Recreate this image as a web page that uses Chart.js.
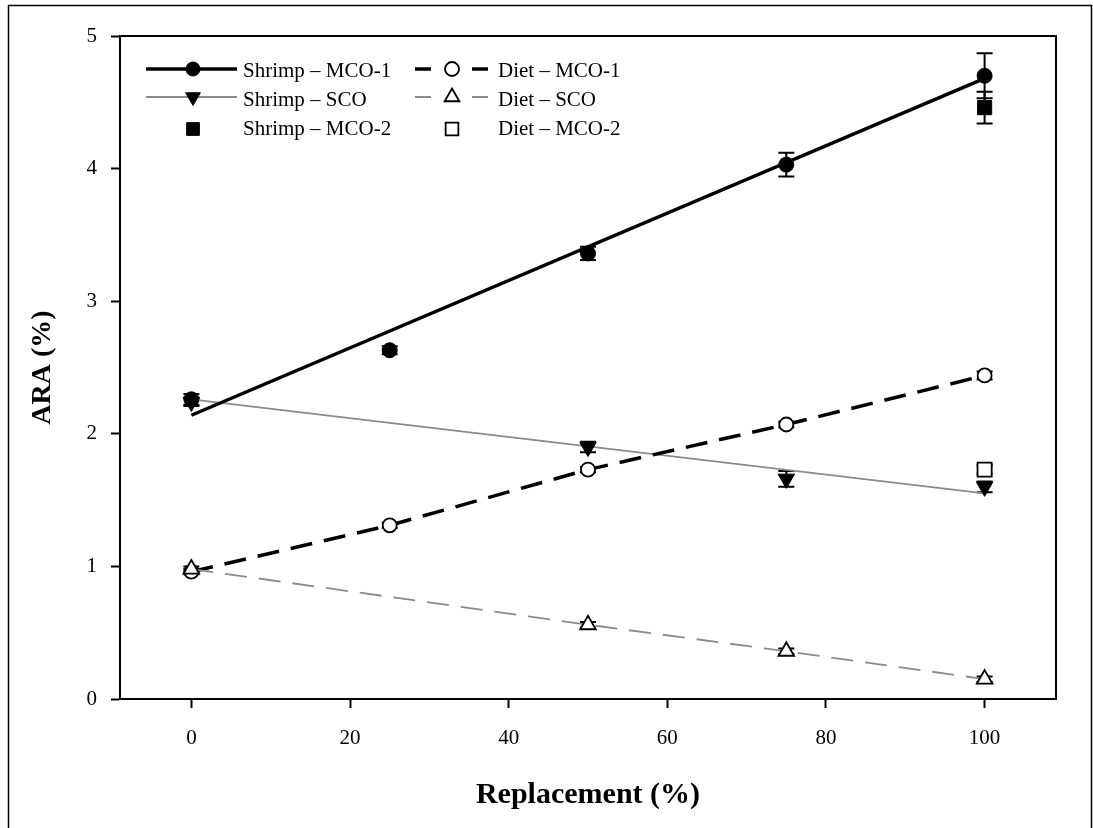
<!DOCTYPE html>
<html><head><meta charset="utf-8">
<script src="https://cdn.jsdelivr.net/npm/chart.js@4"></script>
<style>html,body{margin:0;padding:0;background:#fff}#wrap{width:1093px;height:828px;position:relative}</style>
</head><body><div id="wrap"><canvas id="c" width="1093" height="828"></canvas></div>
<script>
// ---- data ----
const replacement = [0, 25, 50, 75, 100];
const scoReplacement = [0, 50, 75, 100];
const mco2Replacement = [100];
const fitReplacement = [0, 100];

const shrimpMco1 = [2.26, 2.63, 3.36, 4.03, 4.70];
const shrimpMco1Err = [0.04, 0.03, 0.05, 0.09, 0.17];
const shrimpSco = [2.24, 1.90, 1.66, 1.60];
const shrimpScoErr = [0.03, 0.04, 0.06, 0.04];
const shrimpMco2 = [4.46];
const shrimpMco2Err = [0.12];

const dietMco1 = [0.96, 1.31, 1.73, 2.07, 2.44];
const dietMco1Err = [0.02, 0.02, 0.02, 0.02, 0.03];
const dietSco = [0.98, 0.56, 0.36, 0.15];
const dietScoErr = [0.02, 0.02, 0.02, 0.02];
const dietMco2 = [1.73];
const dietMco2Err = [0.03];

const shrimpMco1Fit = [2.14, 4.68];
const shrimpScoFit = [2.26, 1.55];

const xTicks = [0, 20, 40, 60, 80, 100];
const yTicks = [0, 1, 2, 3, 4, 5];
const legendLabels = ['Shrimp – MCO-1', 'Shrimp – SCO', 'Shrimp – MCO-2', 'Diet – MCO-1', 'Diet – SCO', 'Diet – MCO-2'];

const GRAY = '#8a8a8a';
const FONT = "'Liberation Serif', 'Times New Roman', serif";
const pts = (xs, ys) => xs.map((x, i) => ({x, y: ys[i]}));

const datasets = [
  {label: legendLabels[0], data: pts(replacement, shrimpMco1), err: shrimpMco1Err, showLine: false,
   pointStyle: 'circle', pointRadius: 7.5, pointBackgroundColor: '#000', pointBorderColor: '#000', pointBorderWidth: 1},
  {label: 'fit1', data: pts(fitReplacement, shrimpMco1Fit), showLine: true, borderColor: '#000', borderWidth: 3.5, pointRadius: 0},
  {label: legendLabels[1], data: pts(scoReplacement, shrimpSco), err: shrimpScoErr, showLine: false,
   pointStyle: 'triangle', rotation: 180, pointRadius: 9.5, pointBackgroundColor: '#000', pointBorderColor: '#000', pointBorderWidth: 1},
  {label: 'fit2', data: pts(fitReplacement, shrimpScoFit), showLine: true, borderColor: GRAY, borderWidth: 1.8, pointRadius: 0},
  {label: legendLabels[2], data: pts(mco2Replacement, shrimpMco2), err: shrimpMco2Err, showLine: false,
   pointStyle: 'rect', pointRadius: 10, pointBackgroundColor: '#000', pointBorderColor: '#000', pointBorderWidth: 1},
  {label: legendLabels[3], data: pts(replacement, dietMco1), err: dietMco1Err, showLine: true, borderColor: '#000', borderWidth: 3.5, borderDash: [22, 12],
   pointStyle: 'circle', pointRadius: 7, pointBackgroundColor: '#fff', pointBorderColor: '#000', pointBorderWidth: 1.8},
  {label: legendLabels[4], data: pts(scoReplacement, dietSco), err: dietScoErr, showLine: true, borderColor: GRAY, borderWidth: 1.8, borderDash: [22, 12],
   pointStyle: 'triangle', pointRadius: 9, pointBackgroundColor: '#fff', pointBorderColor: '#000', pointBorderWidth: 1.8},
  {label: legendLabels[5], data: pts(mco2Replacement, dietMco2), err: dietMco2Err, showLine: false,
   pointStyle: 'rect', pointRadius: 10, pointBackgroundColor: '#fff', pointBorderColor: '#000', pointBorderWidth: 1.8}
];
datasets.forEach((d, i) => { d.order = d.label.startsWith('fit') ? 10 : (8 - i); });

const errorBars = {
  id: 'errorBars',
  beforeDatasetsDraw(chart) {
    const {ctx, scales: {x, y}} = chart;
    ctx.save();
    ctx.strokeStyle = '#000';
    ctx.lineWidth = 2;
    chart.data.datasets.forEach(ds => {
      if (!ds.err) return;
      ds.data.forEach((p, i) => {
        const e = ds.err[i];
        const px = x.getPixelForValue(p.x);
        const top = y.getPixelForValue(p.y + e), bot = y.getPixelForValue(p.y - e);
        ctx.beginPath();
        ctx.moveTo(px, top); ctx.lineTo(px, bot);
        ctx.moveTo(px - 8, top); ctx.lineTo(px + 8, top);
        ctx.moveTo(px - 8, bot); ctx.lineTo(px + 8, bot);
        ctx.stroke();
      });
    });
    ctx.restore();
  }
};

const frames = {
  id: 'frames',
  afterDraw(chart) {
    const {ctx, chartArea: a} = chart;
    ctx.save();
    ctx.strokeStyle = '#000';
    ctx.lineWidth = 2;
    ctx.strokeRect(a.left, a.top, a.right - a.left, a.bottom - a.top);
    ctx.lineWidth = 1.5;
    ctx.strokeRect(8.5, 5.5, 1083, 840);
    ctx.restore();
  }
};

const customLegend = {
  id: 'customLegend',
  afterDraw(chart) {
    const {ctx} = chart;
    const ds = chart.data.datasets;
    const rows = [69, 97, 129];
    const textY = [71, 100, 129];
    const cols = [
      {l0: 146, l1: 237, mk: 193, tx: 243, entries: [
        {pt: ds[0], line: ds[1]}, {pt: ds[2], line: ds[3]}, {pt: ds[4], line: null}]},
      {l0: 415, l1: 488, mk: 452, tx: 498, entries: [
        {pt: ds[5], line: ds[5]}, {pt: ds[6], line: ds[6]}, {pt: ds[7], line: null}]}
    ];
    ctx.save();
    ctx.font = `21px ${FONT}`;
    ctx.textBaseline = 'middle';
    cols.forEach(c => {
      c.entries.forEach((e, r) => {
        const y = rows[r];
        if (e.line) {
          ctx.strokeStyle = e.line.borderColor;
          ctx.lineWidth = e.line.borderWidth;
          ctx.beginPath();
          if (e.line.borderDash) {
            ctx.moveTo(c.l0, y); ctx.lineTo(c.l0 + 16, y);
            ctx.moveTo(c.l1 - 16, y); ctx.lineTo(c.l1, y);
          } else {
            ctx.moveTo(c.l0, y); ctx.lineTo(c.l1, y);
          }
          ctx.stroke();
        }
        const p = e.pt;
        ctx.fillStyle = p.pointBackgroundColor;
        ctx.strokeStyle = p.pointBorderColor;
        ctx.lineWidth = p.pointBorderWidth;
        Chart.helpers.drawPoint(ctx, {pointStyle: p.pointStyle, rotation: p.rotation || 0,
          radius: p.pointStyle === 'rect' ? 9 : (p.pointStyle === 'triangle' ? 8.5 : 7), borderWidth: p.pointBorderWidth}, c.mk, y);
        ctx.fillStyle = '#000';
        ctx.fillText(p.label, c.tx, textY[r]);
      });
    });
    ctx.restore();
  }
};

new Chart(document.getElementById('c'), {
  type: 'scatter',
  data: {datasets},
  plugins: [errorBars, frames, customLegend],
  options: {
    responsive: false,
    animation: false,
    devicePixelRatio: 1,
    layout: {padding: {left: 0, top: 36, right: 37, bottom: 0}},
    plugins: {legend: {display: false}, tooltip: {enabled: false}},
    scales: {
      x: {
        type: 'linear', min: -9, max: 109,
        afterBuildTicks: s => { s.ticks = xTicks.map(v => ({value: v})); },
        afterFit: s => { s.height = 129; },
        grid: {drawOnChartArea: false, drawTicks: true, tickLength: 9, tickColor: '#000', tickWidth: 2},
        border: {color: '#000', width: 2},
        ticks: {color: '#000', font: {family: FONT, size: 21}, padding: 18, maxRotation: 0},
        title: {display: true, text: 'Replacement (%)', color: '#000', font: {family: FONT, size: 30, weight: 'bold'}, padding: {top: 0, bottom: 15}}
      },
      y: {
        type: 'linear', min: 0, max: 5,
        afterBuildTicks: s => { s.ticks = yTicks.map(v => ({value: v})); },
        afterFit: s => { s.width = 120; },
        grid: {drawOnChartArea: false, drawTicks: true, tickLength: 9, tickColor: '#000', tickWidth: 2},
        border: {color: '#000', width: 2},
        ticks: {color: '#000', font: {family: FONT, size: 21}, padding: 14},
        title: {display: true, text: 'ARA (%)', color: '#000', font: {family: FONT, size: 28, weight: 'bold'}, padding: {top: 26, bottom: 0}}
      }
    }
  }
});
</script>
</body></html>
